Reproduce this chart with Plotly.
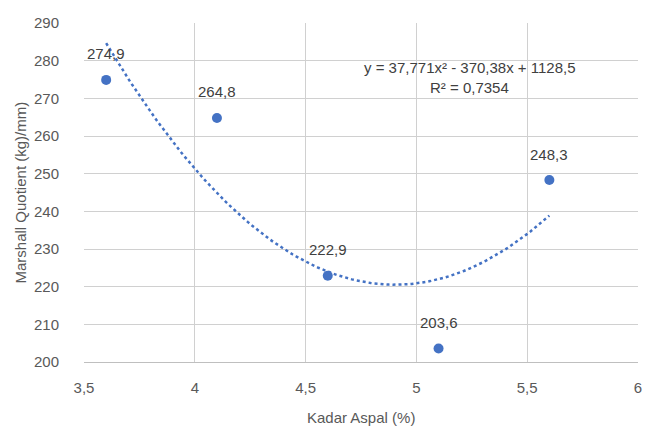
import numpy as np
import plotly.graph_objects as go

# Asphalt content (%) and Marshall Quotient values
kadar_aspal = [3.6, 4.1, 4.6, 5.1, 5.6]
marshall_quotient = [274.9, 264.8, 222.9, 203.6, 248.3]
value_labels = ["274,9", "264,8", "222,9", "203,6", "248,3"]

# Polynomial trendline coefficients (a x^2 + b x + c) and R^2
trend_coef = [37.771, -370.38, 1128.5]
r_squared = "0,7354"

x_tick_vals = [3.5, 4, 4.5, 5, 5.5, 6]
x_tick_text = ["3,5", "4", "4,5", "5", "5,5", "6"]
y_tick_vals = [200, 210, 220, 230, 240, 250, 260, 270, 280, 290]

x_title = "Kadar Aspal (%)"
y_title = "Marshall Quotient (kg)/mm)"

blue = "#4472C4"
text_col = "#595959"
label_col = "#404040"
grid_col = "#d0d0d0"
font_family = "Liberation Sans, Arial, sans-serif"

xt = np.linspace(min(kadar_aspal), max(kadar_aspal), 120)
yt = np.polyval(trend_coef, xt)

fig = go.Figure()
fig.add_trace(go.Scatter(
    x=xt, y=yt, mode="lines",
    line=dict(color=blue, width=2.5, dash="dot"),
    hoverinfo="skip", showlegend=False,
))
fig.add_trace(go.Scatter(
    x=kadar_aspal, y=marshall_quotient, mode="markers",
    marker=dict(color=blue, size=10),
    showlegend=False,
))

# value labels above each point
for xv, yv, lab in zip(kadar_aspal, marshall_quotient, value_labels):
    fig.add_annotation(x=xv, y=yv, text=lab, showarrow=False, yshift=26,
                       font=dict(size=15, color=label_col, family=font_family))

eq = "y = {:.3f}x² - {:.2f}x + {:.1f}".format(
    trend_coef[0], -trend_coef[1], trend_coef[2]).replace(".", ",")
fig.add_annotation(x=5.24, y=278.2, text=eq, showarrow=False,
                   font=dict(size=15, color=label_col, family=font_family))
fig.add_annotation(x=5.24, y=272.8, text="R² = " + r_squared, showarrow=False,
                   font=dict(size=15, color=label_col, family=font_family))

# axis titles
fig.add_annotation(x=0.5, y=0, xref="paper", yref="paper", yshift=-55,
                   text=x_title, showarrow=False, yanchor="middle",
                   font=dict(size=15, color=text_col, family=font_family))
fig.add_annotation(x=0, y=0.5, xref="paper", yref="paper", xshift=-64,
                   text=y_title, showarrow=False, textangle=-90, xanchor="center",
                   font=dict(size=15, color=text_col, family=font_family))

fig.update_layout(
    width=651, height=430,
    margin=dict(l=84, r=13, t=23, b=68, autoexpand=False),
    paper_bgcolor="white", plot_bgcolor="white",
    separators=",.",
    font=dict(family=font_family, color=text_col),
    xaxis=dict(
        range=[3.5, 6], tickvals=x_tick_vals, ticktext=x_tick_text,
        showgrid=True, gridcolor=grid_col, gridwidth=1,
        showline=True, linecolor="#bfbfbf", linewidth=1,
        zeroline=False, ticks="", automargin=False,
        tickfont=dict(size=15, color=text_col),
        ticklabelstandoff=12,
    ),
    yaxis=dict(
        range=[200, 290], tickvals=y_tick_vals,
        showgrid=True, gridcolor=grid_col, gridwidth=1,
        showline=False, zeroline=False, ticks="", automargin=False,
        tickfont=dict(size=15, color=text_col),
        ticklabelstandoff=24,
    ),
)

fig.write_html("out.html")
